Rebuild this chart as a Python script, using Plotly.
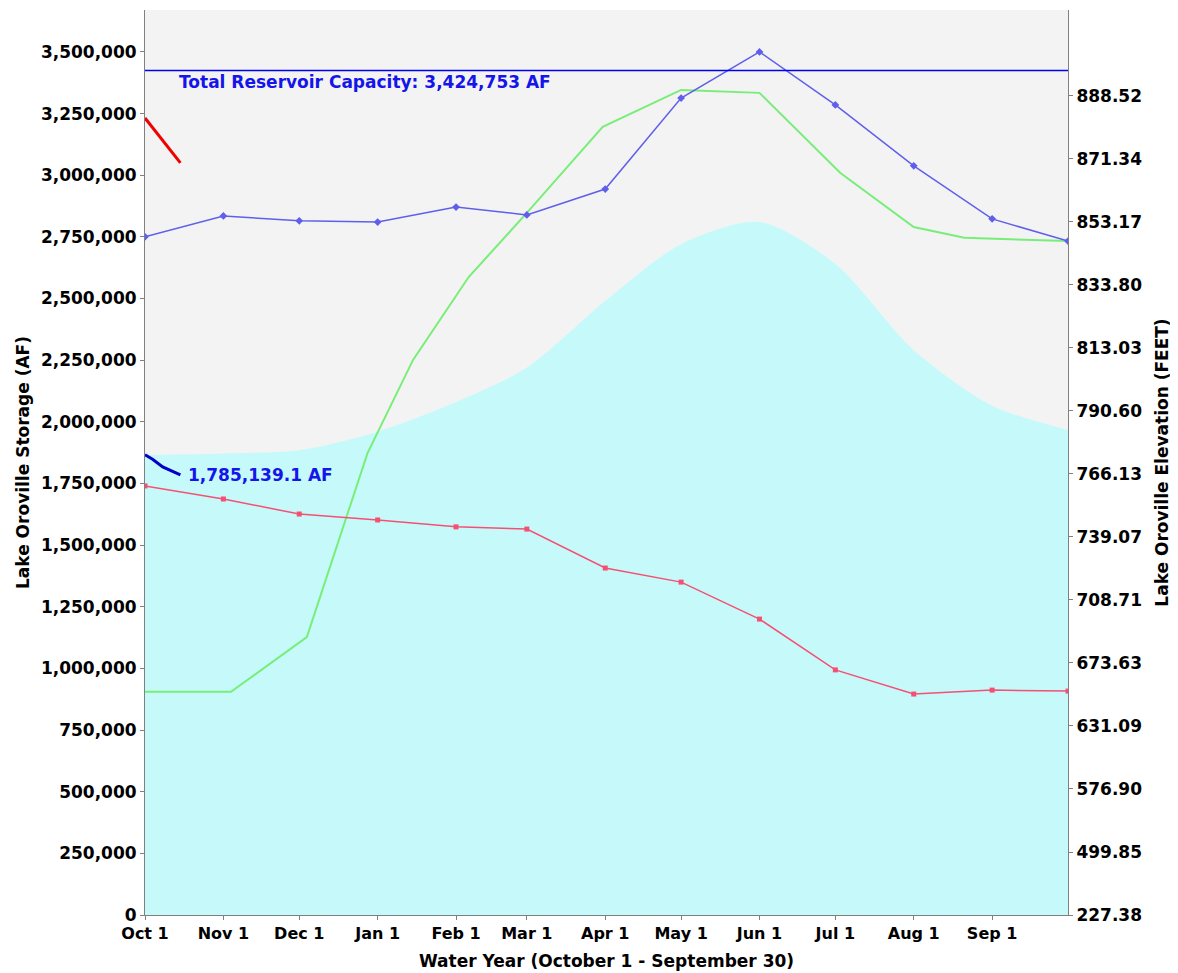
import plotly.graph_objects as go

# ---- data ----
month_dates = ["2018-10-01", "2018-11-01", "2018-12-01", "2019-01-01", "2019-02-01",
               "2019-03-01", "2019-04-01", "2019-05-01", "2019-06-01", "2019-07-01",
               "2019-08-01", "2019-09-01", "2019-10-01"]
month_labels = ["Oct 1", "Nov 1", "Dec 1", "Jan 1", "Feb 1", "Mar 1", "Apr 1",
                "May 1", "Jun 1", "Jul 1", "Aug 1", "Sep 1"]

# cyan filled area (AF)
area_vals = [1866000, 1872000, 1885000, 1960000, 2080000, 2220000, 2490000,
             2720000, 2810000, 2640000, 2290000, 2065000, 1967000]

# blue line with markers (AF)
blue_vals = [2750000, 2835000, 2815000, 2810000, 2871000, 2839000, 2944000,
             3313000, 3500000, 3285000, 3038000, 2823000, 2733000]

# red line with markers (AF)
red_vals = [1740000, 1687000, 1626000, 1602000, 1574000, 1565000, 1407000,
            1350000, 1200000, 994000, 896000, 912000, 908000]

# green line (AF)
green_dates = ["2018-10-01", "2018-11-04", "2018-12-04", "2018-12-28", "2019-01-15",
               "2019-02-06", "2019-03-01", "2019-03-31", "2019-05-01", "2019-06-01",
               "2019-07-03", "2019-08-01", "2019-08-21", "2019-10-01"]
green_vals = [905000, 905000, 1127000, 1873000, 2251000, 2587000, 2847000,
              3196000, 3346000, 3334000, 3009000, 2790000, 2746000, 2733000]

# current storage (short dark blue line)
cur_dates = ["2018-10-01", "2018-10-04", "2018-10-08", "2018-10-12", "2018-10-15"]
cur_vals = [1866000, 1848000, 1817000, 1797000, 1785139.1]

# short red line
red_short_dates = ["2018-10-01", "2018-10-08", "2018-10-15"]
red_short_vals = [3232000, 3140000, 3050000]

capacity = 3424753
capacity_dates = ["2018-10-01", "2019-10-01"]
capacity_label = "Total Reservoir Capacity: 3,424,753 AF"
current_label = "1,785,139.1 AF"

left_ticks = [0, 250000, 500000, 750000, 1000000, 1250000, 1500000, 1750000,
              2000000, 2250000, 2500000, 2750000, 3000000, 3250000, 3500000]
# positions (in storage units) of the elevation labels on the right axis
right_ticks = [0, 255500, 511000, 766500, 1022000, 1277500, 1533000, 1788500,
               2044000, 2299500, 2555000, 2810500, 3066000, 3321500]
right_labels = ["227.38", "499.85", "576.90", "631.09", "673.63", "708.71", "739.07",
                "766.13", "790.60", "813.03", "833.80", "853.17", "871.34", "888.52"]

y_range = [0, 3670000]
x_range = ["2018-10-01", "2019-10-01"]

FONT = "DejaVu Sans"
TXT_BLUE = "rgb(20,20,235)"

fig = go.Figure()

fig.add_trace(go.Scatter(x=month_dates, y=area_vals, mode="lines",
                         line=dict(width=0, shape="spline", smoothing=0.8),
                         fill="tozeroy", fillcolor="rgb(198,250,250)",
                         hoverinfo="skip", showlegend=False))

fig.add_trace(go.Scatter(x=green_dates, y=green_vals, mode="lines",
                         line=dict(color="rgb(120,238,120)", width=2),
                         showlegend=False))

fig.add_trace(go.Scatter(x=month_dates, y=blue_vals, mode="lines+markers",
                         line=dict(color="rgb(95,95,235)", width=1.5),
                         marker=dict(symbol="diamond", size=6, color="rgb(95,95,235)"),
                         showlegend=False))

fig.add_trace(go.Scatter(x=month_dates, y=red_vals, mode="lines+markers",
                         line=dict(color="rgb(245,80,115)", width=1.5),
                         marker=dict(symbol="square", size=5, color="rgb(245,80,115)"),
                         showlegend=False))

# capacity line drawn on the right axis (same range) so that axis is rendered
fig.add_trace(go.Scatter(x=capacity_dates, y=[capacity, capacity], mode="lines",
                         line=dict(color="rgb(0,0,240)", width=1.5),
                         yaxis="y2", showlegend=False))

fig.add_trace(go.Scatter(x=cur_dates, y=cur_vals, mode="lines",
                         line=dict(color="rgb(0,0,200)", width=3),
                         showlegend=False))

fig.add_trace(go.Scatter(x=red_short_dates, y=red_short_vals, mode="lines",
                         line=dict(color="rgb(240,0,0)", width=3),
                         showlegend=False))

fig.add_annotation(x="2018-10-13 12:00", y=capacity, xref="x", yref="y", text=capacity_label,
                   showarrow=False, xanchor="left", yanchor="top", yshift=0,
                   font=dict(family=FONT, size=17, color=TXT_BLUE, weight="bold"))

fig.add_annotation(x=cur_dates[-1], y=cur_vals[-1], xref="x", yref="y", text=current_label,
                   showarrow=False, xanchor="left", yanchor="middle", xshift=6,
                   font=dict(family=FONT, size=17, color=TXT_BLUE, weight="bold"))

axis_common = dict(showgrid=False, zeroline=False, ticks="outside", ticklen=4,
                   tickcolor="gray", showline=True, linecolor="gray", automargin=False)

fig.update_layout(
    width=1170, height=965,
    margin=dict(l=137, r=110, t=2, b=58),
    paper_bgcolor="white",
    plot_bgcolor="rgb(243,243,243)",
    font=dict(family=FONT, size=16, color="black"),
    xaxis=dict(range=x_range, type="date", tickmode="array",
               tickvals=month_dates[:-1], ticktext=month_labels,
               tickfont=dict(family=FONT, size=16, color="black", weight="bold"),
               title=dict(text="Water Year (October 1 - September 30)", standoff=12,
                          font=dict(family=FONT, size=17, color="black", weight="bold")),
               **axis_common),
    yaxis=dict(range=y_range, tickmode="array", tickvals=left_ticks, tickformat=",",
               tickfont=dict(family=FONT, size=17, color="black", weight="bold"),
               title=dict(text="Lake Oroville Storage (AF)", standoff=6,
                          font=dict(family=FONT, size=17, color="black", weight="bold")),
               **axis_common),
    yaxis2=dict(range=y_range, overlaying="y", side="right", tickmode="array",
                tickvals=right_ticks, ticktext=right_labels,
                tickfont=dict(family=FONT, size=17, color="black", weight="bold"),
                title=dict(text="Lake Oroville Elevation (FEET)", standoff=14,
                           font=dict(family=FONT, size=17, color="black", weight="bold")),
                **axis_common),
    showlegend=False,
)

fig.write_html("out.html")
